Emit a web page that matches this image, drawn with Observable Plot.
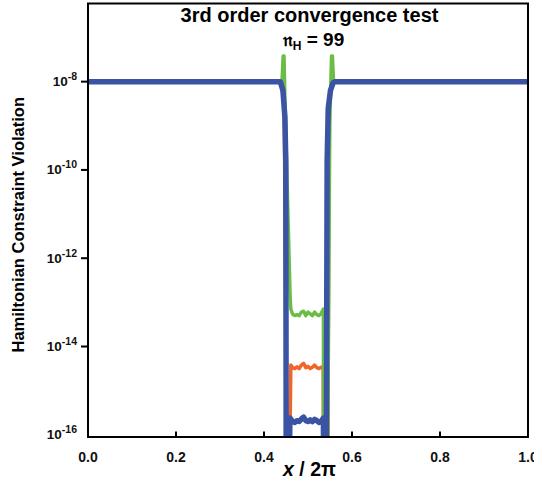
<!DOCTYPE html>
<html>
<head>
<meta charset="utf-8">
<script src="https://cdn.jsdelivr.net/npm/d3@7"></script>
<script src="https://cdn.jsdelivr.net/npm/@observablehq/plot@0.6"></script>
<style>
  html, body { margin: 0; padding: 0; background: #fff; }
  svg { display: block; }
</style>
</head>
<body>
<div id="chart"></div>
<script>
// ---- Data (log10 of the Hamiltonian constraint violation) ----
const greenX = [0, 0.2, 0.441, 0.4435, 0.4455, 0.4475, 0.4595, 0.461, 0.465, 0.47, 0.475, 0.48, 0.485, 0.49, 0.495, 0.5, 0.505, 0.51, 0.515, 0.52, 0.525, 0.53, 0.535, 0.5355, 0.5445, 0.5495, 0.5535, 0.5555, 0.558, 0.562, 0.8, 1];
const greenLogY = [-8, -8, -8, -7.42, -7.42, -8.4, -12.9, -13.15, -13.27, -13.3, -13.28, -13.3, -13.22, -13.2, -13.3, -13.22, -13.26, -13.3, -13.22, -13.28, -13.3, -13.25, -13.15, -17, -17, -9, -7.42, -7.42, -8, -8, -8, -8];

const orangeX = [0, 0.2, 0.44, 0.446, 0.452, 0.458, 0.461, 0.465, 0.47, 0.475, 0.48, 0.485, 0.49, 0.495, 0.5, 0.505, 0.51, 0.515, 0.52, 0.525, 0.53, 0.5345, 0.535, 0.545, 0.548, 0.555, 0.8, 1];
const orangeLogY = [-8, -8, -8, -8.5, -17, -17, -14.42, -14.48, -14.5, -14.46, -14.5, -14.42, -14.38, -14.48, -14.45, -14.5, -14.47, -14.42, -14.48, -14.5, -14.47, -14.45, -17, -17, -8.5, -8, -8, -8];

const blueX = [0, 0.2, 0.437, 0.443, 0.4475, 0.4495, 0.4505, 0.457, 0.459, 0.465, 0.47, 0.475, 0.48, 0.485, 0.49, 0.495, 0.5, 0.505, 0.51, 0.515, 0.52, 0.525, 0.53, 0.535, 0.5355, 0.5415, 0.5435, 0.546, 0.551, 0.557, 0.562, 0.8, 1];
const blueLogY = [-8, -8, -8, -8.2, -8.8, -9.8, -17, -17, -15.62, -15.7, -15.72, -15.68, -15.7, -15.64, -15.6, -15.68, -15.7, -15.66, -15.7, -15.65, -15.68, -15.72, -15.7, -15.62, -17, -17, -9.8, -8.6, -8.2, -8.03, -8, -8, -8];

const xTicks = [0, 0.2, 0.4, 0.6, 0.8, 1.0];
const yTickExps = [-8, -10, -12, -14, -16];

const title = "3rd order convergence test";
const xLabelItalic = "x";
const xLabelRest = " / 2π";
const yLabel = "Hamiltonian Constraint Violation";

const colors = { green: "#6cbd45", orange: "#f0652a", blue: "#3a53a4" };

// ---- Build tables ----
const toRows = (xs, ls) => xs.map((x, i) => ({ x, y: Math.pow(10, ls[i]) }));
const green = toRows(greenX, greenLogY);
const orange = toRows(orangeX, orangeLogY);
const blue = toRows(blueX, blueLogY);

const W = 534, H = 487;
const mT = 3, mB = 50.5, mL = 87.5, mR = 6.5;
const FONT = "'Liberation Sans', Arial, Helvetica, sans-serif";

const plot = Plot.plot({
  width: W,
  height: H,
  marginTop: mT,
  marginBottom: mB,
  marginLeft: mL,
  marginRight: mR,
  style: { fontFamily: FONT, fontWeight: "bold", background: "white" },
  x: { domain: [0, 1], label: null },
  y: { type: "log", domain: [Math.pow(10, -16.05), Math.pow(10, -6.23)], label: null },
  marks: [
    Plot.line(orange, { x: "x", y: "y", stroke: colors.orange, strokeWidth: 3.5, clip: true }),
    Plot.line(green, { x: "x", y: "y", stroke: colors.green, strokeWidth: 3.5, clip: true }),
    Plot.line(blue, { x: "x", y: "y", stroke: colors.blue, strokeWidth: 5.5, clip: true }),
    Plot.axisX({ ticks: xTicks, tickSize: 0, tickPadding: 15, tickFormat: d3.format(".1f"), fontSize: 14, fontWeight: "bold", fill: "#111" }),
    Plot.tickX(xTicks, { x: d => d, stroke: "black", strokeWidth: 2, insetTop: 433.5 - 5 }),
    Plot.axisY({ ticks: yTickExps.filter(e => e > -16).map(e => Math.pow(10, e)), tickSize: 6.5, tickFormat: () => "", stroke: "black", strokeWidth: 2 }),
    Plot.frame({ stroke: "black", strokeWidth: 2 })
  ]
});

const svg = d3.select(plot);
const ys = plot.scale("y");
const xs = plot.scale("x");

// Y tick labels with superscripts
yTickExps.forEach(e => {
  const yy = ys.apply(Math.pow(10, e));
  const t = svg.append("text")
    .attr("x", 77)
    .attr("y", Math.min(yy + 5, 440))
    .attr("text-anchor", "end")
    .style("font-family", FONT)
    .style("font-weight", "bold")
    .style("font-size", "13.5px")
    .attr("fill", "#111");
  t.append("tspan").text("10");
  t.append("tspan").attr("dy", -6).style("font-size", "10.5px").text(String(e));
});

const cx = (xs.apply(0) + xs.apply(1)) / 2;

// Title
svg.append("text")
  .attr("x", cx + 2).attr("y", 22)
  .attr("text-anchor", "middle")
  .style("font-family", FONT)
  .style("font-weight", "bold").style("font-size", "20px")
  .text(title);

const sub = svg.append("text")
  .attr("x", cx + 6).attr("y", 46)
  .attr("text-anchor", "middle")
  .style("font-family", FONT)
  .style("font-weight", "bold").style("font-size", "19px");
sub.append("tspan").style("font-family", "'DejaVu Serif', 'DejaVu Sans', serif").text("𝔫");
sub.append("tspan").attr("dy", 4).style("font-size", "12px").text("H");
sub.append("tspan").attr("dy", -4).text(" = 99");

// X label
const xl = svg.append("text")
  .attr("x", cx + 2).attr("y", 476)
  .attr("text-anchor", "middle")
  .style("font-family", FONT)
  .style("font-weight", "bold").style("font-size", "19.5px");
xl.append("tspan").style("font-style", "italic").text(xLabelItalic);
xl.append("tspan").text(xLabelRest);

// Y label
svg.append("text")
  .attr("transform", `translate(24, ${(mT + (H - mB)) / 2 + 5}) rotate(-90)`)
  .attr("text-anchor", "middle")
  .style("font-family", FONT)
  .style("font-weight", "bold").style("font-size", "16.5px")
  .text(yLabel);

document.getElementById("chart").appendChild(plot);
</script>
</body>
</html>
